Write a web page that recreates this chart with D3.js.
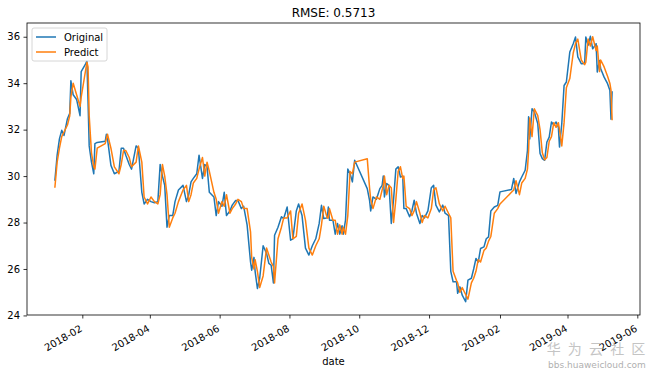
<!DOCTYPE html>
<html>
<head>
<meta charset="utf-8">
<script src="https://cdn.jsdelivr.net/npm/d3@7"></script>
<style>
  body { margin: 0; background: #fff; }
  svg { display: block; font-family: "DejaVu Sans", sans-serif; }
</style>
</head>
<body>
<div id="chart"></div>
<script>
// trading dates (gaps = Chinese holidays)
var dates = [
  "2018-01-08","2018-01-10","2018-01-12","2018-01-14","2018-01-16","2018-01-19","2018-01-21","2018-01-22","2018-01-24","2018-01-27",
  "2018-01-30","2018-01-31","2018-02-04","2018-02-05","2018-02-06","2018-02-07","2018-02-09","2018-02-11","2018-02-12","2018-02-14",
  "2018-02-21","2018-02-22","2018-02-23","2018-02-26","2018-03-01","2018-03-05","2018-03-07","2018-03-09","2018-03-11","2018-03-14",
  "2018-03-16","2018-03-20","2018-03-22","2018-03-25","2018-03-27","2018-03-30","2018-04-02","2018-04-05","2018-04-08","2018-04-10",
  "2018-04-12","2018-04-14","2018-04-16","2018-04-18","2018-04-21","2018-04-23","2018-04-26","2018-04-30","2018-05-03","2018-05-05",
  "2018-05-07","2018-05-09","2018-05-12","2018-05-14","2018-05-17","2018-05-19","2018-05-21","2018-05-23","2018-05-27","2018-05-29",
  "2018-05-31","2018-06-03","2018-06-05","2018-06-07","2018-06-10","2018-06-12","2018-06-15","2018-06-17","2018-06-20","2018-06-22",
  "2018-06-25","2018-06-28","2018-06-29","2018-07-01","2018-07-02","2018-07-04","2018-07-06","2018-07-09","2018-07-12","2018-07-14",
  "2018-07-16","2018-07-18","2018-07-19","2018-07-22","2018-07-25","2018-07-27","2018-07-30","2018-08-02","2018-08-04","2018-08-07",
  "2018-08-09","2018-08-12","2018-08-15","2018-08-18","2018-08-21","2018-08-24","2018-08-27","2018-08-29","2018-08-31","2018-09-03",
  "2018-09-04","2018-09-05","2018-09-08","2018-09-10","2018-09-12","2018-09-14","2018-09-16","2018-09-17","2018-09-19","2018-09-21",
  "2018-09-23","2018-09-25","2018-09-27","2018-10-08","2018-10-10","2018-10-11","2018-10-13","2018-10-16","2018-10-19","2018-10-21",
  "2018-10-22","2018-10-23","2018-10-25","2018-10-27","2018-10-29","2018-10-31","2018-11-02","2018-11-04","2018-11-06","2018-11-08",
  "2018-11-09","2018-11-11","2018-11-14","2018-11-16","2018-11-18","2018-11-20","2018-11-23","2018-11-25","2018-11-27","2018-11-30",
  "2018-12-03","2018-12-05","2018-12-07","2018-12-10","2018-12-13","2018-12-15","2018-12-18","2018-12-20","2018-12-22","2018-12-25",
  "2018-12-26","2018-12-28","2018-12-30","2019-01-02","2019-01-04","2019-01-07","2019-01-09","2019-01-11","2019-01-13","2019-01-15",
  "2019-01-18","2019-01-20","2019-01-22","2019-01-24","2019-01-27","2019-01-30","2019-02-01","2019-02-11","2019-02-13","2019-02-15",
  "2019-02-18","2019-02-20","2019-02-23","2019-02-25","2019-02-26","2019-02-27","2019-03-01","2019-03-03","2019-03-06","2019-03-08",
  "2019-03-10","2019-03-12","2019-03-14","2019-03-16","2019-03-18","2019-03-20","2019-03-22","2019-03-24","2019-03-25","2019-03-27",
  "2019-03-29","2019-03-31","2019-04-03","2019-04-06","2019-04-08","2019-04-10","2019-04-13","2019-04-16","2019-04-17","2019-04-19",
  "2019-04-21","2019-04-23","2019-04-26","2019-04-27","2019-04-29","2019-04-30","2019-05-03","2019-05-06","2019-05-08","2019-05-09",
  "2019-05-10"
];

var original = [
  29.8,30.9,31.6,31.97,31.75,32.47,32.7,34.1,33.5,33.3,
  32.6,34.5,34.84,34.95,33.2,31.3,30.6,30.1,31.4,31.45,
  31.5,31.8,31.6,30.46,30.1,30.2,31.2,31.2,30.9,30.5,
  30.3,31.3,31.2,29.3,28.8,29.0,28.9,28.85,28.9,30.5,
  30.0,29.6,27.8,28.3,28.3,28.9,29.4,29.6,28.9,29.2,
  29.75,29.9,30.1,30.9,29.9,30.5,30.4,29.3,29.1,28.3,
  28.9,28.7,29.3,28.3,28.5,28.75,28.95,28.95,28.6,28.7,
  27.9,26.3,25.95,26.5,25.9,25.16,25.6,27.0,26.67,26.24,
  26.16,25.4,27.45,27.8,28.25,28.17,28.67,27.24,27.3,28.5,
  28.8,28.3,26.9,26.6,27.0,27.3,27.96,28.74,28.17,28.2,
  28.67,28.1,28.1,27.5,27.96,27.5,27.86,27.5,28.1,30.3,
  30.1,29.75,30.68,29.46,28.96,28.5,29.1,29.0,29.46,29.6,
  30.0,29.1,29.68,29.6,27.96,29.0,30.3,30.4,29.96,30.0,
  28.6,28.6,28.25,28.5,28.96,28.4,27.96,28.3,28.2,28.5,
  29.5,29.6,28.75,28.46,28.75,28.4,28.3,25.9,25.45,25.45,
  24.95,25.23,24.87,24.59,25.52,25.6,26.0,26.45,26.3,26.88,
  26.95,27.3,27.38,28.5,28.67,28.74,29.32,29.42,29.9,29.25,
  29.75,29.96,30.25,31.1,32.55,31.6,32.9,32.76,32.26,30.97,
  30.75,30.68,31.47,31.68,32.33,32.2,32.33,32.1,31.25,32.26,
  33.9,34.05,35.34,35.7,35.99,35.13,34.84,34.85,35.99,35.63,
  36.02,35.48,35.7,34.48,34.98,34.62,34.26,33.98,33.7,32.45,
  33.65
];

var predict = [
  29.5,30.6,31.2,31.7,31.9,32.2,32.6,33.4,34.0,33.5,
  33.0,33.4,34.6,34.9,34.7,32.6,31.0,30.4,30.3,31.2,
  31.4,31.6,31.8,31.2,30.4,30.1,30.5,31.1,31.1,30.8,
  30.4,30.6,31.3,30.6,29.1,28.8,29.1,28.9,28.8,29.2,
  30.5,30.0,29.2,27.8,28.2,28.4,28.9,29.4,29.6,28.9,
  29.2,29.7,29.9,30.3,30.8,30.0,30.6,30.2,29.3,29.0,
  28.4,28.9,28.7,29.2,28.4,28.6,28.8,29.0,28.9,28.6,
  28.6,27.6,26.5,26.0,26.4,25.9,25.2,25.7,26.9,26.6,
  26.3,26.1,25.4,27.3,27.8,28.2,28.2,28.5,27.3,27.4,
  28.4,28.8,28.1,26.9,26.6,27.0,27.3,27.9,28.7,28.2,
  28.2,28.6,28.1,28.1,27.5,27.9,27.5,27.8,27.5,28.3,
  30.2,30.1,30.6,30.75,29.5,29.0,28.6,29.1,29.0,29.4,
  29.6,30.0,29.2,29.6,29.5,28.0,29.0,30.2,30.4,29.9,
  30.0,28.7,28.6,28.3,28.5,28.9,28.4,28.0,28.3,28.2,
  28.6,29.4,29.5,28.8,28.5,28.7,28.4,28.2,25.9,25.5,
  25.4,25.0,25.2,24.9,24.7,25.4,25.6,25.9,26.4,26.3,
  26.8,26.9,27.2,27.4,28.4,28.6,28.8,29.3,29.4,29.8,
  29.2,29.7,29.9,30.3,31.1,32.5,31.7,32.9,32.6,32.0,
  31.0,30.7,30.8,31.5,31.7,32.3,32.1,32.3,32.0,31.3,
  32.3,33.8,34.2,35.3,35.7,35.9,35.0,34.8,34.9,35.9,
  35.6,36.0,35.4,35.6,34.5,35.0,34.7,34.3,34.0,33.7,
  32.4
];

var yTicks = [24, 26, 28, 30, 32, 34, 36];
var xTickLabels = ["2018-02","2018-04","2018-06","2018-08","2018-10","2018-12","2019-02","2019-04","2019-06"];
var seriesNames = ["Original", "Predict"];
var colors = ["#1f77b4", "#ff7f0e"];

var width = 651, height = 374;
var margin = {top: 23, right: 11, bottom: 59, left: 27};
var iw = width - margin.left - margin.right;
var ih = height - margin.top - margin.bottom;

var parse = d3.timeParse("%Y-%m-%d");
var parseMonth = d3.timeParse("%Y-%m");
var fmt = d3.timeFormat("%Y-%m");

var rows = dates.map(function (d, i) {
  return {date: parse(d), o: original[i], p: predict[i]};
});

// matplotlib-like 5% margins
var xExt = d3.extent(rows, function (d) { return d.date; });
var xPad = (xExt[1] - xExt[0]) * 0.05;
var x = d3.scaleTime()
  .domain([new Date(+xExt[0] - xPad), new Date(+xExt[1] + xPad)])
  .range([0, iw]);

var yMin = d3.min([d3.min(original), d3.min(predict)]);
var yMax = d3.max([d3.max(original), d3.max(predict)]);
var yPad = (yMax - yMin) * 0.05;
var y = d3.scaleLinear()
  .domain([yMin - yPad, yMax + yPad])
  .range([ih, 0]);

var svg = d3.select("#chart").append("svg")
  .attr("width", width)
  .attr("height", height);

var g = svg.append("g")
  .attr("transform", "translate(" + margin.left + "," + margin.top + ")");

// lines
var keys = ["o", "p"];
keys.forEach(function (k, i) {
  var line = d3.line()
    .x(function (d) { return x(d.date); })
    .y(function (d) { return y(d[k]); });
  g.append("path")
    .datum(rows)
    .attr("fill", "none")
    .attr("stroke", colors[i])
    .attr("stroke-width", 1.5)
    .attr("stroke-linejoin", "round")
    .attr("d", line);
});

// axes
var xAxis = d3.axisBottom(x)
  .tickValues(xTickLabels.map(parseMonth))
  .tickFormat(fmt)
  .tickSize(3.5)
  .tickSizeOuter(0)
  .tickPadding(3);

var gx = g.append("g")
  .attr("transform", "translate(0," + ih + ")")
  .call(xAxis);
gx.select(".domain").remove();
gx.selectAll("text")
  .attr("font-size", 10)
  .attr("font-family", "DejaVu Sans")
  .attr("fill", "#000")
  .style("text-anchor", "end")
  .attr("dx", 0)
  .attr("dy", 0)
  .attr("transform", "translate(-3,10) rotate(-30)");

var yAxis = d3.axisLeft(y)
  .tickValues(yTicks)
  .tickSize(3.5)
  .tickSizeOuter(0)
  .tickPadding(3.5);

var gy = g.append("g").call(yAxis);
gy.select(".domain").remove();
gy.selectAll("text")
  .attr("font-size", 10)
  .attr("font-family", "DejaVu Sans")
  .attr("fill", "#000");

g.selectAll(".tick line").attr("stroke", "#000").attr("stroke-width", 0.8);

// frame
g.append("rect")
  .attr("x", 0).attr("y", 0)
  .attr("width", iw).attr("height", ih)
  .attr("fill", "none")
  .attr("stroke", "#000")
  .attr("stroke-width", 0.8);

// title and x label
svg.append("text")
  .attr("x", margin.left + iw / 2)
  .attr("y", 17)
  .attr("text-anchor", "middle")
  .attr("font-size", 12)
  .text("RMSE: 0.5713");

svg.append("text")
  .attr("x", margin.left + iw / 2)
  .attr("y", 365)
  .attr("text-anchor", "middle")
  .attr("font-size", 10)
  .text("date");

// legend
var lg = g.append("g").attr("transform", "translate(5,5)");
lg.append("rect")
  .attr("width", 75).attr("height", 33)
  .attr("rx", 2)
  .attr("fill", "#fff").attr("fill-opacity", 0.8)
  .attr("stroke", "#ccc").attr("stroke-width", 0.8);
seriesNames.forEach(function (name, i) {
  lg.append("line")
    .attr("x1", 4).attr("x2", 24)
    .attr("y1", 9 + i * 15).attr("y2", 9 + i * 15)
    .attr("stroke", colors[i]).attr("stroke-width", 1.5);
  lg.append("text")
    .attr("x", 32).attr("y", 12.5 + i * 15)
    .attr("font-size", 10)
    .text(name);
});

// watermark
svg.append("text")
  .attr("x", 597).attr("y", 354)
  .attr("text-anchor", "middle")
  .attr("font-size", 14)
  .attr("letter-spacing", 2)
  .attr("font-family", "Noto Sans CJK SC")
  .attr("fill", "#c4c4c4")
  .text("华 为 云 社 区");
svg.append("text")
  .attr("x", 597).attr("y", 368)
  .attr("text-anchor", "middle")
  .attr("font-size", 9)
  .attr("fill", "#b0b0b0")
  .text("bbs.huaweicloud.com");
</script>
</body>
</html>
